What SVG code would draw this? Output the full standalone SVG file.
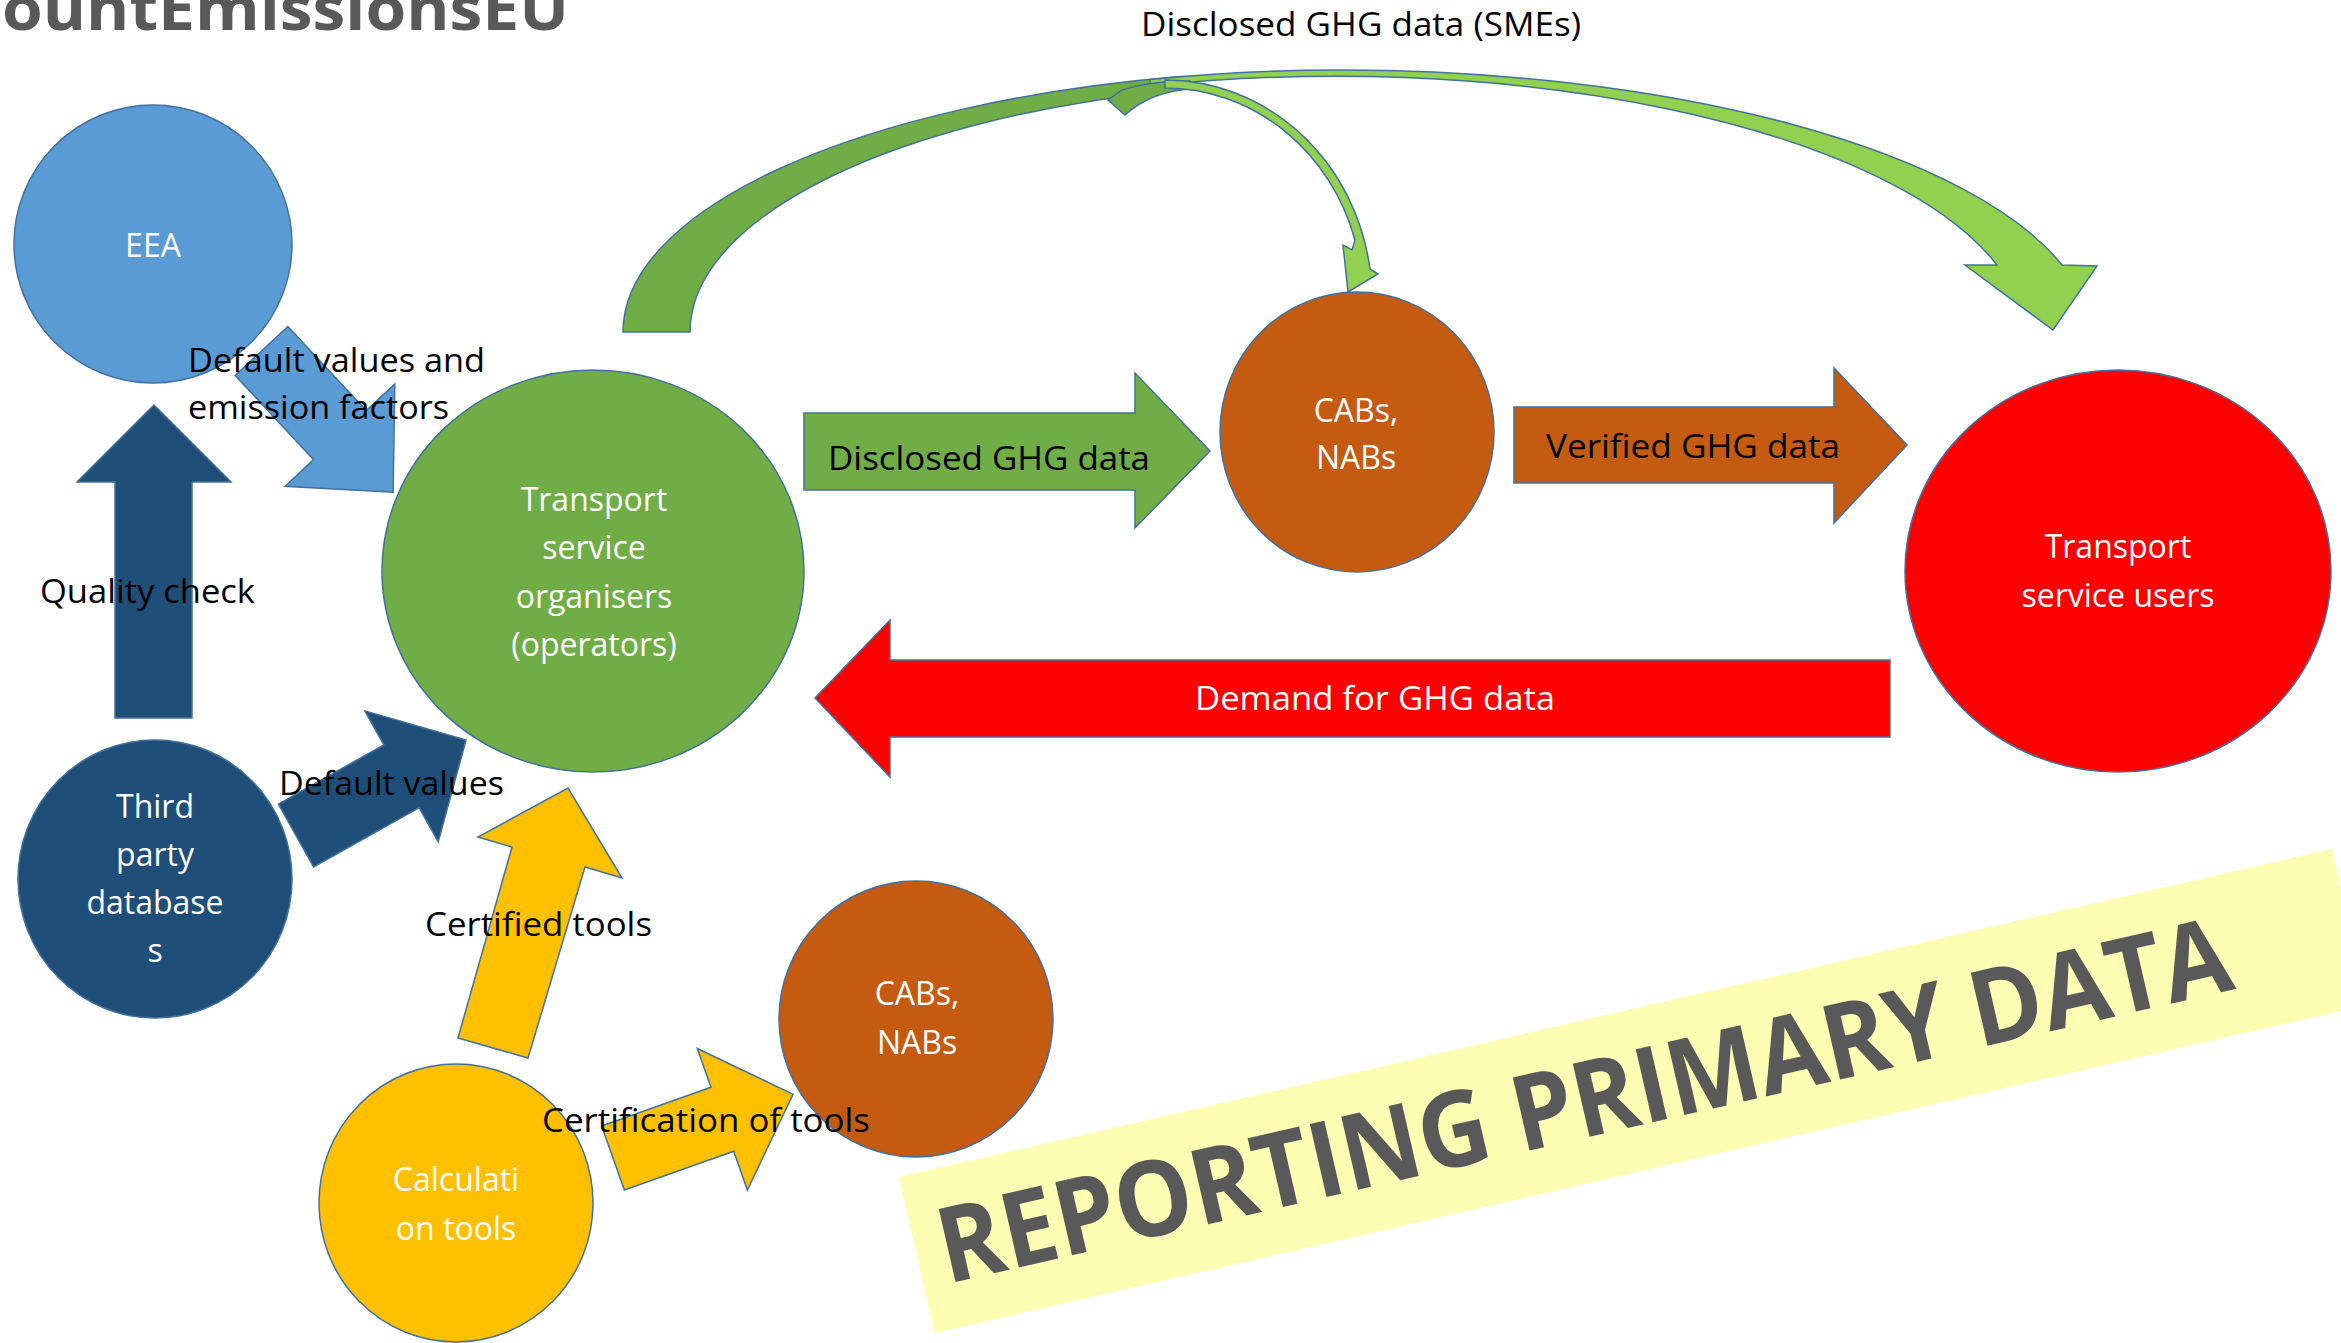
<svg xmlns="http://www.w3.org/2000/svg" width="2341" height="1343" viewBox="0 0 2341 1343">
<style>
.sh{stroke:#41719C;stroke-width:1.5;stroke-linejoin:miter}
.nl{font-family:"Open Sans","Liberation Sans",sans-serif;font-size:32px;fill:#ffffff;text-anchor:middle}
.al{font-family:"Open Sans","Liberation Sans",sans-serif;font-size:33px;fill:#000000}
.blue{fill:#5B9BD5}
.dblue{fill:#1F4E79}
.green{fill:#70AD47}
.lgreen{fill:#92D050}
.brown{fill:#C55A11}
.red{fill:#FF0000}
.yellow{fill:#FFC000}
</style>
<rect width="2341" height="1343" fill="#ffffff"/>
<text x="2" y="30" font-family="Open Sans, Liberation Sans, sans-serif" font-weight="bold" font-size="60" fill="#595959" textLength="567" lengthAdjust="spacingAndGlyphs">ountEmissionsEU</text>

<g id="connectors">
  <!-- top curved arrow (Disclosed GHG data (SMEs)) -->
  <path class="sh green" d="M 623,332 A 717 262 0 0 1 1180,76.6 L 1180,89.7 A 650 250 0 0 0 690,332 Z"/>
  <path class="sh lgreen" d="M 1150,79.4 A 717 262 0 0 1 1340,70 A 752 270 0 0 1 2062,265 L 2097,266 L 2053,330 L 1965,265 L 1997,265 A 690 264 0 0 0 1150,86 Z"/>
  <path class="sh green" d="M 1108,100 L 1122,90 Q 1150,81 1190,81 L 1190,89 Q 1150,92 1125,115 Z"/>
  <path class="sh lgreen" d="M 1165,80 A 207 220 0 0 1 1370,269 L 1378,274 L 1348,292 L 1343,245 L 1352,250 L 1355,240 A 198 212 0 0 0 1165,88 Z"/>
  <!-- EEA -> operators -->
  <polygon class="sh blue" transform="translate(261.5,351) rotate(47)" points="0,-36 115,-36 115,-75 193,0 115,75 115,36 0,36"/>
  <!-- Quality check -->
  <polygon class="sh dblue" points="115,718 115,482 77,482 154,405 231,482 192,482 192,718"/>
  <!-- Default values -->
  <polygon class="sh dblue" transform="translate(296,835.5) rotate(-29.3)" points="0,-36 121,-36 121,-75 195,0 121,75 121,36 0,36"/>
  <!-- Certified tools -->
  <polygon class="sh yellow" points="458,1038 512,847 478,837 568,788 622,878 585,867 528,1058"/>
  <!-- Certification of tools -->
  <polygon class="sh yellow" transform="translate(613,1158) rotate(-19.5)" points="0,-34 116,-34 116,-75 191,0 116,75 116,34 0,34"/>
  <!-- Disclosed GHG data -->
  <polygon class="sh green" points="804,413 1135,413 1135,373 1210,451 1135,528 1135,490 804,490"/>
  <!-- Verified GHG data -->
  <polygon class="sh brown" points="1514,407 1834,407 1834,368 1907,445 1834,523 1834,483 1514,483"/>
  <!-- Demand for GHG data -->
  <polygon class="sh red" points="1890,660 890,660 890,620 815,698 890,777 890,737 1890,737"/>
</g>

<g id="node-eea">
  <ellipse class="sh blue" cx="153" cy="244" rx="139" ry="139"/>
  <text class="nl" x="153" y="257">EEA</text>
</g>
<g id="node-operators">
  <ellipse class="sh green" cx="593" cy="571" rx="211" ry="201"/>
  <text class="nl" x="594" y="511">Transport</text>
  <text class="nl" x="594" y="559">service</text>
  <text class="nl" x="594" y="608">organisers</text>
  <text class="nl" x="594" y="656">(operators)</text>
</g>
<g id="node-third-party">
  <ellipse class="sh dblue" cx="155" cy="879" rx="137" ry="139"/>
  <text class="nl" x="155" y="818">Third</text>
  <text class="nl" x="155" y="866">party</text>
  <text class="nl" x="155" y="914">database</text>
  <text class="nl" x="155" y="962">s</text>
</g>
<g id="node-calc-tools">
  <ellipse class="sh yellow" cx="456" cy="1203" rx="137" ry="139"/>
  <text class="nl" x="456" y="1191">Calculati</text>
  <text class="nl" x="456" y="1240">on tools</text>
</g>
<g id="node-cabs-lower">
  <ellipse class="sh brown" cx="916" cy="1019" rx="137" ry="138"/>
  <text class="nl" x="917" y="1005">CABs,</text>
  <text class="nl" x="917" y="1054">NABs</text>
</g>
<g id="node-cabs-upper">
  <ellipse class="sh brown" cx="1357" cy="432" rx="137" ry="140"/>
  <text class="nl" x="1356" y="422">CABs,</text>
  <text class="nl" x="1356" y="469">NABs</text>
</g>
<g id="node-users">
  <ellipse class="sh red" cx="2118" cy="571" rx="213" ry="201"/>
  <text class="nl" x="2118" y="558">Transport</text>
  <text class="nl" x="2118" y="607">service users</text>
</g>

<g id="connector-labels">
  <text class="al" x="1141" y="36" font-size="30" textLength="440" lengthAdjust="spacingAndGlyphs">Disclosed GHG data (SMEs)</text>
  <text class="al" x="188" y="372" textLength="297" lengthAdjust="spacingAndGlyphs">Default values and</text>
  <text class="al" x="188" y="419" textLength="261" lengthAdjust="spacingAndGlyphs">emission factors</text>
  <text class="al" x="40" y="603" textLength="215" lengthAdjust="spacingAndGlyphs">Quality check</text>
  <text class="al" x="279" y="795" textLength="225" lengthAdjust="spacingAndGlyphs">Default values</text>
  <text class="al" x="425" y="936" textLength="227" lengthAdjust="spacingAndGlyphs">Certified tools</text>
  <text class="al" x="542" y="1132" textLength="328" lengthAdjust="spacingAndGlyphs">Certification of tools</text>
  <text class="al" x="828" y="470" textLength="322" lengthAdjust="spacingAndGlyphs">Disclosed GHG data</text>
  <text class="al" x="1546" y="458" textLength="294" lengthAdjust="spacingAndGlyphs">Verified GHG data</text>
  <text class="al" x="1195" y="710" style="fill:#ffffff" textLength="360" lengthAdjust="spacingAndGlyphs">Demand for GHG data</text>
</g>

<g id="stamp" transform="translate(899,1177) rotate(-12.9)">
  <rect x="0" y="0" width="1470" height="160" fill="#FDFDB3"/>
  <text x="23" y="115" font-family="Open Sans, Liberation Sans, sans-serif" font-weight="bold" font-size="105" fill="#595959" textLength="1323" lengthAdjust="spacingAndGlyphs">REPORTING PRIMARY DATA</text>
</g>
</svg>
